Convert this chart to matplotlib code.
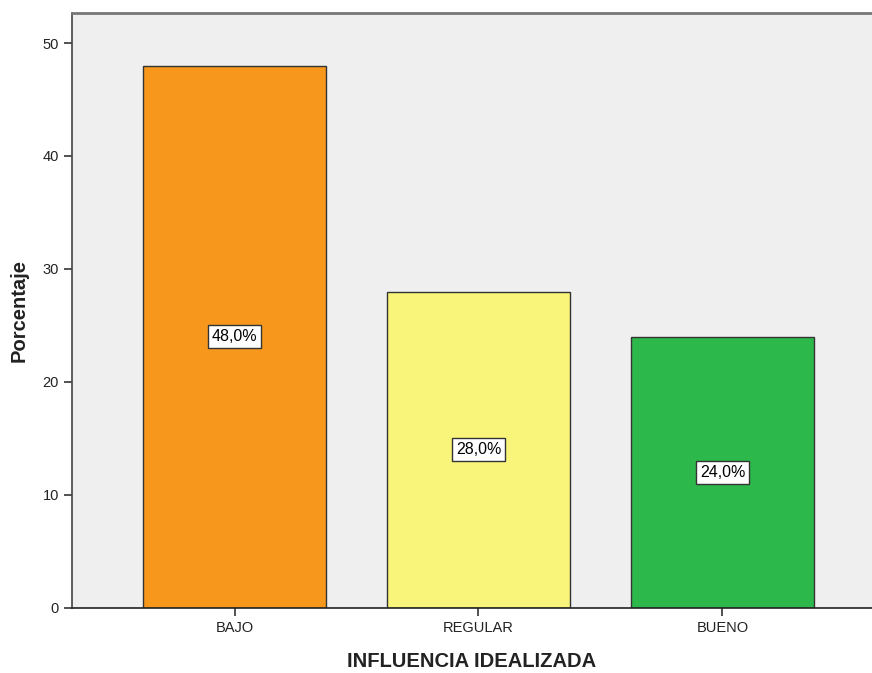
import matplotlib
matplotlib.use("Agg")
import matplotlib.pyplot as plt

# Datos del grafico
categorias = ['BAJO', 'REGULAR', 'BUENO']
porcentajes = [48.0, 28.0, 24.0]
colores = ['#F7981D', '#F9F57A', '#2DB84B']

plt.rcParams['font.family'] = ['Liberation Sans', 'DejaVu Sans']

fig = plt.figure(figsize=(8.72, 6.73), dpi=100)
ax = fig.add_axes([0.0826, 0.0966, 0.9174, 0.884])
ax.set_facecolor('#EFEFEF')

x = range(len(categorias))
bars = ax.bar(x, porcentajes, width=0.75, color=colores, edgecolor='#333333', linewidth=1.0, zorder=2)

# Etiquetas de valor en el centro de cada barra
for b, v in zip(bars, porcentajes):
    ax.text(b.get_x() + b.get_width() / 2, v / 2, ('%.1f%%' % v).replace('.', ','),
            ha='center', va='center', fontsize=11.5, color='black', zorder=3,
            bbox=dict(boxstyle='square,pad=0.25', facecolor='white', edgecolor='#333333', linewidth=1.0))

ax.set_xlim(-0.666, 2.613)
ax.set_ylim(0, 52.65)
ax.set_yticks([0, 10, 20, 30, 40, 50])
ax.set_xticks(list(x))
ax.set_xticklabels(categorias)
ax.tick_params(axis='both', direction='out', length=6, width=1.2, color='#333333', labelsize=10.5, labelcolor='#222222')

ax.spines['right'].set_visible(False)
ax.spines['left'].set_color('#444444')
ax.spines['bottom'].set_color('#222222')
ax.spines['top'].set_color('#777777')
ax.spines['top'].set_linewidth(2.0)
ax.spines['left'].set_linewidth(1.2)
ax.spines['bottom'].set_linewidth(1.2)

ax.set_xlabel('INFLUENCIA IDEALIZADA', fontsize=14.5, fontweight='bold', color='#222222', labelpad=12)
ax.set_ylabel('Porcentaje', fontsize=14.5, fontweight='bold', color='#222222', labelpad=10)

fig.savefig('out.png', dpi=100)
